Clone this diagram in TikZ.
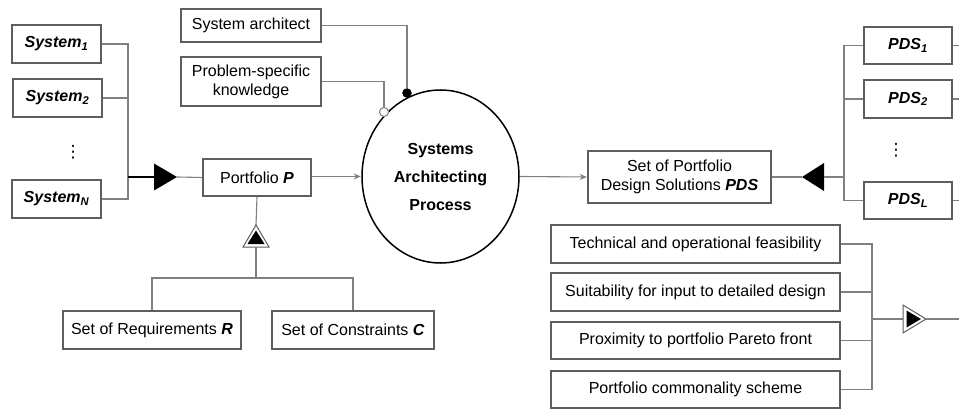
\documentclass[tikz,border=0pt]{standalone}
\usepackage{fontspec}
\setmainfont{Liberation Sans}
\newfontfamily\dejavu{DejaVu Sans}
\usetikzlibrary{shapes.geometric,arrows.meta}
\definecolor{boxc}{HTML}{5E5E5E}
\definecolor{linec}{HTML}{808080}
\tikzset{
  bx/.style={draw=boxc, line width=1.3, fill=white, inner sep=0, align=center,
    font=\fontsize{16}{19}\selectfont},
  conn/.style={draw=linec, line width=1.1},
  arr/.style={conn, -{Stealth[length=7,width=6]}, shorten >=0.5},
  proc/.style={ellipse, draw=black, line width=1.5, minimum width=157, minimum height=173,
    inner sep=0, align=center, font=\fontsize{16}{28}\selectfont\bfseries},
  bdotst/.style={circle, fill=black, draw=black, minimum size=9, inner sep=0},
  odotst/.style={circle, fill=white, draw=linec, line width=1, minimum size=9, inner sep=0},
  dotsst/.style={inner sep=0, font=\fontsize{17}{19}\dejavu}
}
\newcommand{\bi}[1]{\textbf{\textit{#1}}}
\begin{document}
\begin{tikzpicture}[x=1pt,y=-1pt]
\useasboundingbox (0,0) rectangle (959,409);

% Systems
\node[bx, minimum width=89, minimum height=38] (s1) at (56.5,44) {\bi{System\textsubscript{1}}};
\node[bx, minimum width=89, minimum height=38] (s2) at (57.5,98) {\bi{System\textsubscript{2}}};
\node[dotsst] (sd) at (73,152) {⋮};
\node[bx, minimum width=89, minimum height=38] (sN) at (56.5,199) {\bi{System\textsubscript{N}}};
\coordinate (sj) at (128,177);
\draw[conn] (s1.east) -| (sj);
\draw[conn] (s2.east) -| (sj);
\draw[conn] (sN.east) -| (sj);
% big triangle left
\coordinate (lt1) at (154,177);
\coordinate (lt2) at (177,177);
\fill (154,163.5) -- (177,177) -- (154,190.5) -- cycle;
\draw[black, line width=1.6] (sj) -- (lt1);

% Portfolio
\node[bx, minimum width=108, minimum height=37] (P) at (257,177.5) {Portfolio \bi{P}};
\draw[conn] (lt2) -- (P.west);

% Process
\node[proc] (proc) at (440.5,176.5) {Systems\\Architecting\\Process};
\draw[arr] (P.east |- proc.west) -- (proc.west);

% Architect & knowledge
\node[bx, minimum width=140, minimum height=33] (sa) at (251,25.5) {System architect};
\node[bx, minimum width=140, minimum height=49] (psk) at (251,81.5) {Problem-specific\\knowledge};
\node[bdotst] (bdot) at (407,93) {};
\node[odotst] (odot) at (384,112) {};
\draw[conn] (sa.east) -| (bdot.north);
\draw[conn] (psk.east) -| (odot.north);

% Requirements / constraints
\coordinate (ut1) at (256,225);
\coordinate (ut2) at (256,247);
\draw[conn] (P.south) -- (ut1);
\draw[boxc, line width=1, fill=white] (256,225) -- (269,247) -- (243,247) -- cycle;
\fill (256,230.5) -- (264.5,244) -- (247.5,244) -- cycle;
\node[bx, minimum width=178, minimum height=38] (req) at (152,330) {Set of Requirements \bi{R}};
\node[bx, minimum width=162, minimum height=38] (con) at (353,330) {Set of Constraints \bi{C}};
\coordinate (rj) at (256,278);
\draw[conn] (ut2) -- (rj);
\draw[conn] (req.north) |- (rj) -| (con.north);

% PDS
\node[bx, minimum width=183, minimum height=52] (pds) at (679.5,177) {Set of Portfolio\\Design Solutions \bi{PDS}};
\draw[arr] (proc.east) -- (pds.west);
\coordinate (rt1) at (802,177);
\coordinate (rt2) at (824,177);
\fill (802,177) -- (824,163) -- (824,191) -- cycle;
\draw[conn] (pds.east) -- (rt1);
\coordinate (pj) at (844,177);
\draw[conn] (rt2) -- (pj);
\node[bx, minimum width=88, minimum height=37] (p1) at (908,45.5) {\bi{PDS\textsubscript{1}}};
\node[bx, minimum width=88, minimum height=38] (p2) at (908,99) {\bi{PDS\textsubscript{2}}};
\node[dotsst] (pd) at (896,150) {⋮};
\node[bx, minimum width=88, minimum height=37] (pL) at (908,200.5) {\bi{PDS\textsubscript{L}}};
\draw[conn] (p1.west) -| (pj);
\draw[conn] (p2.west) -| (pj);
\draw[conn] (pL.west) -| (pj);
\coordinate (e1) at (959,45.5);
\coordinate (e2) at (959,99);
\coordinate (eL) at (959,200.5);
\draw[conn] (p1.east) -- (e1);
\draw[conn] (p2.east) -- (e2);
\draw[conn] (pL.east) -- (eL);

% Criteria
\node[bx, minimum width=289, minimum height=38] (c1) at (695.5,244) {Technical and operational feasibility};
\node[bx, minimum width=289, minimum height=38] (c2) at (695.5,292) {Suitability for input to detailed design};
\node[bx, minimum width=289, minimum height=37] (c3) at (695.5,340.5) {Proximity to portfolio Pareto front};
\node[bx, minimum width=289, minimum height=37] (c4) at (695.5,389.5) {Portfolio commonality scheme};
\coordinate (cj) at (872,319);
\draw[conn] (c1.east) -| (cj);
\draw[conn] (c4.east) -| (cj);
\draw[conn] (c2.east) -- (c2.east -| cj);
\draw[conn] (c3.east) -- (c3.east -| cj);
\coordinate (ct1) at (903,319);
\coordinate (ct2) at (926,319);
\coordinate (ce) at (959,319);
\draw[conn] (cj) -- (ct1);
\draw[boxc, line width=1, fill=white] (903,305) -- (926,319) -- (903,333) -- cycle;
\fill (906.5,310.5) -- (921,319) -- (906.5,327.5) -- cycle;
\draw[conn] (ct2) -- (ce);
\end{tikzpicture}
\end{document}
